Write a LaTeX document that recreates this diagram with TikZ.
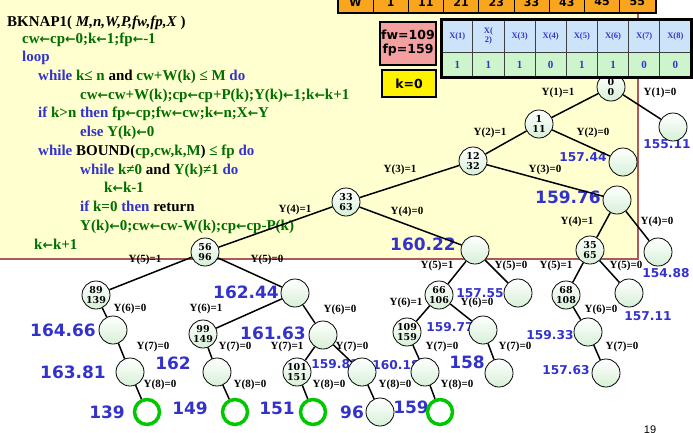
\documentclass[tikz,border=0pt]{standalone}
\usepackage{fontspec}
\setmainfont{Liberation Serif}
\newfontfamily\valfont{DejaVu Sans}
\newfontfamily\numfont{DejaVu Serif}
\newfontfamily\pagefont{Liberation Sans}
\definecolor{panel}{RGB}{255,255,208}
\definecolor{rim}{RGB}{170,90,90}
\definecolor{kwblue}{RGB}{51,51,204}
\definecolor{stgreen}{RGB}{0,110,0}
\definecolor{hitgreen}{RGB}{0,200,0}
\definecolor{wrow}{RGB}{250,165,30}
\definecolor{xhead}{RGB}{204,228,250}
\definecolor{xval}{RGB}{204,245,204}
\definecolor{fwpink}{RGB}{245,160,160}
\definecolor{nodefill}{RGB}{215,240,215}
\tikzstyle{vertex}=[circle, draw, line width=0.8pt, inner sep=0pt, minimum size=28pt, top color=white, bottom color=nodefill]
\tikzstyle{hit}=[circle, draw=hitgreen, line width=3.5pt, inner sep=0pt, minimum size=25pt, fill=white]
\tikzstyle{pair}=[align=center, inner sep=0pt, font=\numfont\bfseries\fontsize{9.5}{10.5}\selectfont]
\tikzstyle{branch}=[inner sep=0pt, font=\bfseries\fontsize{11}{11}\selectfont]
\tikzstyle{bound}=[inner sep=0pt, text=kwblue, font=\valfont\bfseries\fontsize{12.2}{12}\selectfont]
\tikzstyle{bigbound}=[inner sep=0pt, text=kwblue, font=\valfont\bfseries\fontsize{17}{17}\selectfont]
\tikzstyle{code}=[anchor=base west, inner sep=0pt, font=\bfseries\fontsize{15}{18}\selectfont]
\tikzstyle{wcell}=[draw, line width=1pt, fill=wrow, minimum width=35.25pt, minimum height=20pt, inner sep=0pt, font=\valfont\bfseries\fontsize{11}{11}\selectfont]
\tikzstyle{xcell}=[draw=black!75, line width=0.8pt, fill=xhead, minimum width=31.15pt, minimum height=32pt, inner sep=0pt, align=center, text=kwblue, font=\bfseries\fontsize{8.5}{9}\selectfont]
\tikzstyle{vcell}=[draw=black!75, line width=0.8pt, fill=xval, minimum width=31.15pt, minimum height=25pt, inner sep=0pt, text=kwblue, font=\bfseries\fontsize{11}{11}\selectfont]
\newcommand{\vertex}{\node[vertex]}
\newcommand{\hit}{\node[hit]}
\newcommand{\kw}[1]{\textcolor{kwblue}{#1}}
\newcommand{\st}[1]{\textcolor{stgreen}{#1}}
\newcommand{\la}{{\valfont\fontsize{12.5}{12}\selectfont ←}}

\begin{document}
\begin{tikzpicture}[x=1pt,y=-1pt]
    \useasboundingbox (0,0) rectangle (693,432);
    \clip (0,0) rectangle (693,432);
    \fill[panel] (0,0) rectangle (638,259);
    \draw[rim, line width=1.2pt] (638,10) -- (638,259) -- (0,259);

    \node[code] (c1) at (7,26.5) {BKNAP1( \textit{M,n,W,P,fw,fp,X} )};
    \node[code] (c2) at (22,43) {\st{cw\la cp\la 0;k\la 1;fp\la -1}};
    \node[code] (c3) at (22,61.7) {\kw{loop}};
    \node[code] (c4) at (38,80.7) {\kw{while} \st{k≤ n} and \st{cw+W(k) ≤ M} \kw{do}};
    \node[code] (c5) at (80,99.3) {\st{cw\la cw+W(k);cp\la cp+P(k);Y(k)\la 1;k\la k+1}};
    \node[code] (c6) at (38,117.3) {\kw{if} \st{k>n} \kw{then} \st{fp\la cp;fw\la cw;k\la n;X\la Y}};
    \node[code] (c7) at (80,136.7) {\kw{else} \st{Y(k)\la 0}};
    \node[code] (c8) at (38,155.7) {\kw{while} BOUND(\st{cp,cw,k,M}) \st{≤ fp} \kw{do}};
    \node[code] (c9) at (80,174) {\kw{while} \st{k≠0} and \st{Y(k)≠1} \kw{do}};
    \node[code] (c10) at (104,192.7) {\st{k\la k-1}};
    \node[code] (c11) at (80,211.7) {\kw{if} \st{k=0} \kw{then} return};
    \node[code] (c12) at (80,230.7) {\st{Y(k)\la 0;cw\la cw-W(k);cp\la cp-P(k)}};
    \node[code] (c13) at (34,249.3) {\st{k\la k+1}};

    \node[bound] (t15511) at (667,144) {155.11};
    \node[bound] (t15744) at (583,157) {157.44};
    \node[bigbound] (t15976) at (568,197) {159.76};
    \node[bigbound] (t16022) at (423,244) {160.22};
    \node[bound] (t15488) at (666,273) {154.88};
    \node[bigbound] (t16244) at (246,292) {162.44};
    \node[bound] (t15755) at (480,293) {157.55};
    \node[bound] (t15711) at (648,316) {157.11};
    \node[bigbound] (t16466) at (63,330) {164.66};
    \node[bigbound] (t16163) at (273,333) {161.63};
    \node[bound] (t15977) at (450,327) {159.77};
    \node[bound] (t15933) at (550,335) {159.33};
    \node[bigbound] (t16381) at (73,372) {163.81};
    \node[bigbound] (t162) at (173,363) {162};
    \node[bound] (t15981) at (335,364) {159.81};
    \node[bound] (t16018) at (396,365) {160.18};
    \node[bigbound] (t158) at (467,362) {158};
    \node[bound] (t15763) at (566,370) {157.63};
    \node[bigbound] (t139) at (107,412) {139};
    \node[bigbound] (t149) at (190,408) {149};
    \node[bigbound] (t151) at (277,408) {151};
    \node[bigbound] (t96) at (352,412) {96};
    \node[bigbound] (t159) at (411,407) {159};

    \node[branch] (y1a) at (558,93) {Y(1)=1};
    \node[branch] (y1b) at (660,93) {Y(1)=0};
    \node[branch] (y2a) at (490,133) {Y(2)=1};
    \node[branch] (y2b) at (593,133) {Y(2)=0};
    \node[branch] (y3a) at (400,170) {Y(3)=1};
    \node[branch] (y3b) at (545,170) {Y(3)=0};
    \node[branch] (y4a) at (295,210) {Y(4)=1};
    \node[branch] (y4b) at (407,212) {Y(4)=0};
    \node[branch] (y4c) at (577,222) {Y(4)=1};
    \node[branch] (y4d) at (657,222) {Y(4)=0};
    \node[branch] (y5a) at (145,260) {Y(5)=1};
    \node[branch] (y5b) at (267,260) {Y(5)=0};
    \node[branch] (y5c) at (437,266) {Y(5)=1};
    \node[branch] (y5d) at (511,266) {Y(5)=0};
    \node[branch] (y5e) at (556,266) {Y(5)=1};
    \node[branch] (y5f) at (626,266) {Y(5)=0};
    \node[branch] (y6a) at (130,309) {Y(6)=0};
    \node[branch] (y6b) at (206,309) {Y(6)=1};
    \node[branch] (y6c) at (340,310) {Y(6)=0};
    \node[branch] (y6d) at (406,303) {Y(6)=1};
    \node[branch] (y6e) at (477,303) {Y(6)=0};
    \node[branch] (y6f) at (601,310) {Y(6)=0};
    \node[branch] (y7a) at (153,347) {Y(7)=0};
    \node[branch] (y7b) at (235,347) {Y(7)=0};
    \node[branch] (y7c) at (287,347) {Y(7)=1};
    \node[branch] (y7d) at (352,347) {Y(7)=0};
    \node[branch] (y7e) at (442,347) {Y(7)=0};
    \node[branch] (y7f) at (515,347) {Y(7)=0};
    \node[branch] (y7g) at (622,347) {Y(7)=0};
    \node[branch] (y8a) at (160,385) {Y(8)=0};
    \node[branch] (y8b) at (250,385) {Y(8)=0};
    \node[branch] (y8c) at (329,385) {Y(8)=0};
    \node[branch] (y8d) at (395,385) {Y(8)=0};
    \node[branch] (y8e) at (457,385) {Y(8)=0};

    \vertex[label={[pair]center:0\\0}] (n0) at (611,87) {};
    \vertex[label={[pair]center:1\\11}] (n1) at (539,124) {};
    \vertex[label={[pair]center:12\\32}] (n12) at (473,161) {};
    \vertex[label={[pair]center:33\\63}] (n33) at (346,202) {};
    \vertex[label={[pair]center:56\\96}] (n56) at (205,252) {};
    \vertex[label={[pair]center:35\\65}] (n35) at (590,250) {};
    \vertex[label={[pair]center:89\\139}] (n89) at (96,295) {};
    \vertex[label={[pair]center:66\\106}] (n66) at (439,295) {};
    \vertex[label={[pair]center:68\\108}] (n68) at (566,295) {};
    \vertex[label={[pair]center:99\\149}] (n99) at (203,334) {};
    \vertex[label={[pair]center:109\\159}] (n109) at (407,332) {};
    \vertex[label={[pair]center:101\\151}] (n101) at (297,372) {};
    \vertex (u15511) at (673,127) {};
    \vertex (u15744) at (623,162) {};
    \vertex (u15976) at (617,200) {};
    \vertex (u16022) at (475,250) {};
    \vertex (u15488) at (658,252) {};
    \vertex (u16244) at (295,293) {};
    \vertex (u15755) at (518,293) {};
    \vertex (u15711) at (629,293) {};
    \vertex (u16466) at (113,330) {};
    \vertex (u16163) at (323,335) {};
    \vertex (u15977) at (483,330) {};
    \vertex (u15933) at (588,332) {};
    \vertex (u16381) at (130,372) {};
    \vertex (u162) at (217,372) {};
    \vertex (u15981) at (362,372) {};
    \vertex (u16018) at (425,372) {};
    \vertex (u158) at (499,373) {};
    \vertex (u15763) at (606,373) {};
    \vertex (u96) at (380,412) {};
    \hit (g139) at (147,412) {};
    \hit (g149) at (235,412) {};
    \hit (g151) at (313,412) {};
    \hit (g159) at (440,412) {};

    \path[line width=1.5pt]
        (n0) edge (n1) edge (u15511)
        (n1) edge (n12) edge (u15744)
        (n12) edge (n33) edge (u15976)
        (n33) edge (n56) edge (u16022)
        (u15976) edge (n35) edge (u15488)
        (n56) edge (n89) edge (u16244)
        (u16022) edge (n66) edge (u15755)
        (n35) edge (n68) edge (u15711)
        (n89) edge (u16466)
        (u16244) edge (n99) edge (u16163)
        (n66) edge (n109) edge (u15977)
        (n68) edge (u15933)
        (u16466) edge (u16381)
        (n99) edge (u162)
        (u16163) edge (n101) edge (u15981)
        (n109) edge (u16018)
        (u15977) edge (u158)
        (u15933) edge (u15763)
        (u16381) edge (g139)
        (u162) edge (g149)
        (n101) edge (g151)
        (u15981) edge (u96)
        (u16018) edge (g159)
    ;

    \node[wcell, minimum width=35pt] (w0) at (355.5,2) {W};
    \foreach \v [count=\i] in {1,11,21,23,33,43,45,55}
        \node[wcell] (w\i) at ({373+35.25*(\i-0.5)},2) {\v};
    \draw[line width=2pt] (w0.north west) rectangle (w8.south east);

    \foreach \t/\v [count=\i] in {X(1)/1,{X(\\2)}/1,X(3)/1,X(4)/0,X(5)/1,X(6)/1,X(7)/0,X(8)/0}{
        \node[xcell] (h\i) at ({441.7+31.15*(\i-0.5)},36) {\t};
        \node[vcell] (v\i) at ({441.7+31.15*(\i-0.5)},64.5) {\v};
    }
    \draw[line width=2.5pt] (h1.north west) rectangle (v8.south east);

    \node[draw, line width=1.2pt, fill=fwpink, minimum width=56pt, minimum height=43pt, inner sep=0pt, align=center, font=\valfont\bfseries\fontsize{12.5}{14}\selectfont] (fw) at (408,43.5) {fw=109\\fp=159};
    \node[draw, line width=2.2pt, fill=yellow, minimum width=54pt, minimum height=27pt, inner sep=0pt, font=\valfont\bfseries\fontsize{12.5}{14}\selectfont] (k) at (409,83.5) {k=0};

    \node[font=\pagefont\fontsize{11}{11}\selectfont] (pg) at (650,430) {19};
\end{tikzpicture}
\end{document}
